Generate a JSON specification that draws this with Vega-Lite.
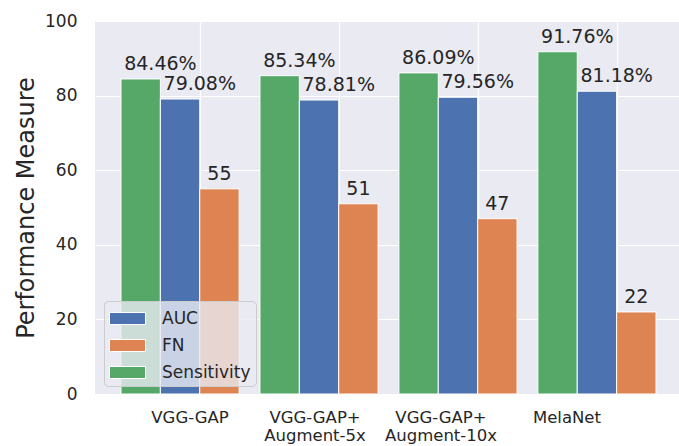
{
  "$schema": "https://vega.github.io/schema/vega-lite/v6.json",
  "width": 587,
  "height": 373,
  "autosize": {"type": "none"},
  "padding": {"left": 95, "top": 21, "right": 0, "bottom": 52},
  "background": "white",
  "config": {
    "view": {"fill": "#EAEAF2", "stroke": null},
    "font": "DejaVu Sans"
  },
  "data": {
    "values": [
      {"model": "VGG-GAP", "metric": "Sensitivity", "value": 84.46, "label": "84.46%"},
      {"model": "VGG-GAP", "metric": "AUC", "value": 79.08, "label": "79.08%"},
      {"model": "VGG-GAP", "metric": "FN", "value": 55, "label": "55"},
      {"model": "VGG-GAP+|Augment-5x", "metric": "Sensitivity", "value": 85.34, "label": "85.34%"},
      {"model": "VGG-GAP+|Augment-5x", "metric": "AUC", "value": 78.81, "label": "78.81%"},
      {"model": "VGG-GAP+|Augment-5x", "metric": "FN", "value": 51, "label": "51"},
      {"model": "VGG-GAP+|Augment-10x", "metric": "Sensitivity", "value": 86.09, "label": "86.09%"},
      {"model": "VGG-GAP+|Augment-10x", "metric": "AUC", "value": 79.56, "label": "79.56%"},
      {"model": "VGG-GAP+|Augment-10x", "metric": "FN", "value": 47, "label": "47"},
      {"model": "MelaNet", "metric": "Sensitivity", "value": 91.76, "label": "91.76%"},
      {"model": "MelaNet", "metric": "AUC", "value": 81.18, "label": "81.18%"},
      {"model": "MelaNet", "metric": "FN", "value": 22, "label": "22"}
    ]
  },
  "encoding": {
    "x": {
      "field": "model",
      "type": "nominal",
      "sort": ["VGG-GAP", "VGG-GAP+|Augment-5x", "VGG-GAP+|Augment-10x", "MelaNet"],
      "scale": {"paddingInner": 0.15, "paddingOuter": 0.187},
      "axis": {
        "title": null,
        "labelExpr": "split(datum.label, '|')",
        "bandPosition": 0.675,
        "grid": true,
        "gridColor": "white",
        "gridWidth": 1.2,
        "ticks": false,
        "domain": false,
        "labelAngle": 0,
        "labelFontSize": 16.5,
        "labelColor": "#262626",
        "labelPadding": 15,
        "labelBaseline": "top",
        "labelLineHeight": 18,
        "labelOffset": {"expr": "datum.value == 'VGG-GAP' ? 10 : datum.value == 'MelaNet' ? -30 : indexof(datum.value, '10x') >= 0 ? -17 : -4"}
      }
    },
    "xOffset": {"field": "metric", "type": "nominal", "sort": ["Sensitivity", "AUC", "FN"], "scale": {"paddingInner": 0, "paddingOuter": 0}},
    "y": {
      "field": "value",
      "type": "quantitative",
      "scale": {"domain": [0, 100], "nice": false},
      "axis": {
        "title": "Performance Measure",
        "titleFontSize": 24,
        "titleFontWeight": "normal",
        "titleColor": "#262626",
        "titlePadding": 6,
        "values": [0, 20, 40, 60, 80, 100],
        "grid": true,
        "gridColor": "white",
        "gridWidth": 1.2,
        "ticks": false,
        "domain": false,
        "labelFontSize": 17,
        "labelColor": "#262626",
        "labelPadding": 18
      }
    }
  },
  "layer": [
    {
      "mark": {"type": "bar", "stroke": "white", "strokeWidth": 1},
      "encoding": {
        "color": {
          "field": "metric",
          "type": "nominal",
          "scale": {"domain": ["AUC", "FN", "Sensitivity"], "range": ["#4C72B0", "#DD8452", "#55A868"]},
          "legend": {
            "title": null,
            "orient": "none",
            "legendX": 9,
            "legendY": 280,
            "symbolType": "M-1,-0.5H2V0.5H-1Z",
            "symbolSize": 576,
            "symbolStrokeColor": "white",
            "symbolStrokeWidth": 1,
            "symbolOpacity": 1,
            "labelFontSize": 17,
            "labelColor": "#262626",
            "labelOffset": 28,
            "padding": 5,
            "rowPadding": 6,
            "fillColor": "rgba(234,234,242,0.8)",
            "strokeColor": "#cccccc",
            "cornerRadius": 4
          }
        }
      }
    },
    {
      "transform": [{"filter": "datum.metric != 'FN'"}],
      "mark": {"type": "text", "align": "left", "baseline": "alphabetic", "dx": -16.5, "dy": -9, "fontSize": 19, "color": "#262626"},
      "encoding": {"text": {"field": "label"}}
    },
    {
      "transform": [{"filter": "datum.metric == 'FN'"}],
      "mark": {"type": "text", "align": "center", "baseline": "alphabetic", "dy": -9, "fontSize": 19, "color": "#262626"},
      "encoding": {"text": {"field": "label"}}
    }
  ]
}
